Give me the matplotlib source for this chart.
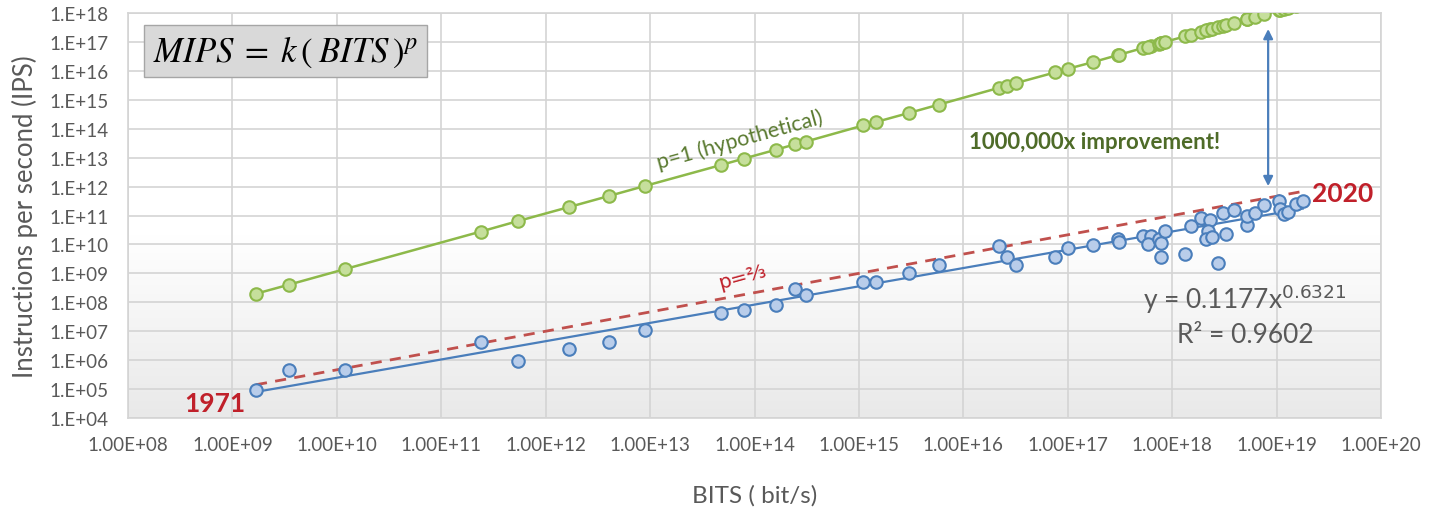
import numpy as np
import matplotlib.pyplot as plt
from matplotlib.patches import FancyArrowPatch
from matplotlib.colors import LinearSegmentedColormap

# --- datos ---
bits = [1.68e9, 3.5e9, 1.2e10, 2.4e11, 5.4e11, 1.66e12, 4.0e12, 8.9e12, 4.8e13, 7.9e13,
        1.62e14, 2.45e14, 3.1e14, 1.1e15, 1.45e15, 3.0e15, 5.8e15, 2.2e16, 2.6e16, 3.2e16,
        7.6e16, 1.0e17, 1.74e17, 3.0e17, 3.1e17, 5.2e17, 6.2e17, 5.9e17, 7.4e17, 7.8e17,
        7.8e17, 8.5e17, 1.32e18, 1.5e18, 1.9e18, 2.3e18, 2.2e18, 2.1e18, 2.4e18, 2.75e18,
        3.1e18, 3.3e18, 3.9e18, 5.2e18, 5.2e18, 6.2e18, 7.6e18, 1.05e19, 1.07e19, 1.17e19,
        1.29e19, 1.55e19, 1.78e19]
ips = [9.3e4, 4.7e5, 4.7e5, 4.2e6, 9.5e5, 2.5e6, 4.2e6, 1.1e7, 4.3e7, 5.5e7,
       8.3e7, 2.9e8, 1.8e8, 5.2e8, 5.2e8, 1.0e9, 1.95e9, 9.1e9, 3.8e9, 1.9e9,
       3.8e9, 7.4e9, 9.5e9, 1.55e10, 1.17e10, 1.9e10, 1.9e10, 1.0e10, 1.55e10, 1.1e10,
       3.8e9, 3.0e10, 4.7e9, 4.5e10, 7.9e10, 6.9e10, 3.0e10, 1.55e10, 1.8e10, 2.3e9,
       1.2e11, 2.3e10, 1.5e11, 4.7e10, 9.8e10, 1.23e11, 2.3e11, 3.2e11, 1.66e11, 1.12e11,
       1.35e11, 2.5e11, 3.2e11]
# serie hipotetica p=1 (puntos verdes)
ips_p1 = [1.98e8, 4.1e8, 1.41e9, 2.8e10, 6.4e10, 1.95e11, 4.7e11, 1.05e12, 5.6e12, 9.3e12,
          1.9e13, 2.9e13, 3.6e13, 1.3e14, 1.7e14, 3.5e14, 6.8e14, 2.6e15, 3.1e15, 3.8e15,
          8.9e15, 1.18e16, 2.0e16, 3.5e16, 3.6e16, 6.1e16, 7.3e16, 6.9e16, 8.7e16, 9.2e16,
          9.2e16, 1.0e17, 1.55e17, 1.77e17, 2.2e17, 2.7e17, 2.6e17, 2.5e17, 2.8e17, 3.2e17,
          3.6e17, 3.9e17, 4.6e17, 6.1e17, 6.1e17, 7.3e17, 8.9e17, 1.24e18, 1.26e18, 1.38e18,
          1.52e18, 1.82e18, 2.1e18]

k_fit, p_fit = 0.1177, 0.6321
k_23, p_23 = 0.1, 2 / 3

xticks = [10.0 ** e for e in range(8, 21)]
xlabels = ["1.00E+%02d" % e for e in range(8, 21)]
yticks = [10.0 ** e for e in range(4, 19)]
ylabels = ["1.E+%02d" % e for e in range(4, 19)]

gray = "#595959"
plt.rcParams['font.family'] = ['Lato', 'DejaVu Sans']

fig = plt.figure(figsize=(14.39, 5.10), dpi=100)
ax = fig.add_axes([0.089, 0.1784, 0.8707, 0.7941])
ax.set_xscale('log')
ax.set_yscale('log')
ax.set_xlim(1e8, 1e20)
ax.set_ylim(1e4, 1e18)

# fondo degradado
grad = np.linspace(0, 1, 256).reshape(-1, 1)
grad = np.clip(grad / 0.45, 0, 1)
ax.imshow(grad, extent=[0, 1, 0, 1], transform=ax.transAxes, aspect='auto',
          cmap=LinearSegmentedColormap.from_list('g', ['#e9e9e9', '#ffffff']),
          origin='lower', zorder=0)

ax.set_xticks(xticks)
ax.set_xticklabels(xlabels)
ax.set_yticks(yticks)
ax.set_yticklabels(ylabels)
ax.minorticks_off()
ax.tick_params(length=0, colors=gray, labelsize=13.5)
ax.tick_params(axis='y', pad=14)
ax.tick_params(axis='x', pad=13)
ax.grid(True, color='#d4d4d4', lw=1.2)
ax.set_axisbelow(True)
for s in ax.spines.values():
    s.set_color('#d4d4d4')
    s.set_linewidth(1.2)

# serie p=1
order = np.argsort(bits)
bx = np.array(bits)[order]
ax.plot(bx, np.array(ips_p1)[order], '-', color='#8db94a', lw=1.8, zorder=3)
ax.plot(bits, ips_p1, 'o', ms=9, mfc='#c6df9c', mec='#8db94a', mew=1.5, zorder=4)

# lineas de tendencia
xl = np.array([min(bits), max(bits)])
ax.plot(xl, k_23 * xl ** p_23, '--', color='#c0504d', lw=2, dashes=(4, 3), zorder=3)
ax.plot(xl, k_fit * xl ** p_fit, '-', color='#4a7ebb', lw=1.6, zorder=3)
ax.plot(bits, ips, 'o', ms=9, mfc='#b9cdea', mec='#4a7ebb', mew=1.5, zorder=5)

ax.set_xlabel("BITS ( bit/s)", color=gray, fontsize=17.5, labelpad=22)
ax.set_ylabel("Instructions per second (IPS)", color=gray, fontsize=18.5, labelpad=8)

# textos
ax.text(0.02, 0.906, r"$MIPS\;=\;k\,\left(\;BITS\,\right)^{p}$", transform=ax.transAxes,
        fontsize=25, math_fontfamily='stix', ha='left', va='center',
        bbox=dict(boxstyle='square,pad=0.25', fc='#d9d9d9', ec='#a6a6a6', lw=1))
ax.text(7.2e13, 4.4e13, "p=1 (hypothetical)", color='#5a7a30', fontsize=15.5,
        rotation=15.5, ha='center', va='center', rotation_mode='anchor')
ax.text(7.6e13, 8.1e8, "p=⅔", color='#c0202a', fontsize=14.5,
        rotation=15.5, ha='center', va='center', rotation_mode='anchor',
        family=['DejaVu Sans'])
ax.text(1.8e17, 3.5e13, "1000,000x improvement!", color='#4e6b28', fontsize=16,
        fontweight='bold', ha='center', va='center')
ax.text(2.2e19, 6e11, "2020", color='#c0202a', fontsize=19, fontweight='bold',
        ha='left', va='center')
ax.text(1.32e9, 3.3e4, "1971", color='#c0202a', fontsize=19, fontweight='bold',
        ha='right', va='center')
ax.text(5.0e18, 1.4e8, r"y = 0.1177x$^{0.6321}$", color=gray, fontsize=19,
        ha='center', va='center')
ax.text(5.0e18, 8e6, "R² = 0.9602", color=gray, fontsize=19,
        ha='center', va='center')

arr = FancyArrowPatch((8.3e18, 3.5e17), (8.3e18, 8.3e11), arrowstyle='<|-|>',
                      mutation_scale=14, color='#4a7ebb', lw=1.6, zorder=6)
ax.add_patch(arr)

fig.savefig("out.png", dpi=100)
